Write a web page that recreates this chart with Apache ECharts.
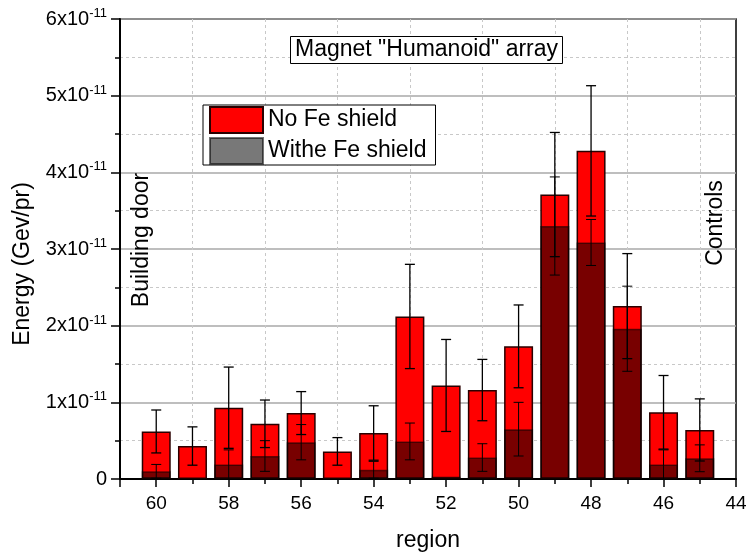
<!DOCTYPE html>
<html>
<head>
<meta charset="utf-8">
<script src="https://cdn.jsdelivr.net/npm/echarts@6/dist/echarts.min.js"></script>
<style>
  html, body { margin: 0; padding: 0; background: #fff; }
  #chart { width: 746px; height: 554px; }
</style>
</head>
<body>
<div id="chart"></div>
<script>
// Detector regions along the beam line (plotted right-to-left)
const regions = [60, 59, 58, 57, 56, 55, 54, 53, 52, 51, 50, 49, 48, 47, 46, 45];
// Energy deposit without iron shielding (Gev/pr) and its uncertainty
const noFe    = [0.62e-11, 0.43e-11, 0.93e-11, 0.72e-11, 0.86e-11, 0.36e-11, 0.60e-11, 2.12e-11,
                 1.22e-11, 1.16e-11, 1.73e-11, 3.71e-11, 4.28e-11, 2.255e-11, 0.87e-11, 0.64e-11];
const noFeErr = [0.28e-11, 0.25e-11, 0.53e-11, 0.31e-11, 0.28e-11, 0.18e-11, 0.355e-11, 0.68e-11,
                 0.60e-11, 0.40e-11, 0.54e-11, 0.81e-11, 0.85e-11, 0.685e-11, 0.48e-11, 0.405e-11];
// Energy deposit with iron shielding (Gev/pr) and its uncertainty
const withFe    = [0.10e-11, 0, 0.19e-11, 0.30e-11, 0.48e-11, 0, 0.12e-11, 0.49e-11,
                   0.03e-11, 0.28e-11, 0.65e-11, 3.30e-11, 3.085e-11, 1.96e-11, 0.19e-11, 0.27e-11];
const withFeErr = [0.09e-11, 0, 0.19e-11, 0.20e-11, 0.23e-11, 0, 0.11e-11, 0.24e-11,
                   0, 0.18e-11, 0.35e-11, 0.64e-11, 0.30e-11, 0.555e-11, 0.19e-11, 0.175e-11];
// Axis ticks
const xTicks = [60, 58, 56, 54, 52, 50, 48, 46, 44];
const yTickUnit = 1e-11;

const FONT = 'Arial, "Liberation Sans", sans-serif';

function errorBars(values, errs, z, width) {
  return {
    type: 'custom',
    z: z,
    silent: true,
    clip: false,
    data: regions.map((r, i) => [r, values[i], errs[i]]),
    renderItem: function (params, api) {
      const x = api.value(0), y = api.value(1), e = api.value(2);
      if (!e) return null;
      const top = api.coord([x, y + e]);
      const bot = api.coord([x, Math.max(y - e, 0)]);
      const cap = 5;
      const style = { stroke: '#000', lineWidth: width };
      const children = [
        { type: 'line', shape: { x1: top[0], y1: top[1], x2: bot[0], y2: bot[1] }, style: style },
        { type: 'line', shape: { x1: top[0] - cap, y1: top[1], x2: top[0] + cap, y2: top[1] }, style: style }
      ];
      if (y - e > 0) {
        children.push({ type: 'line', shape: { x1: bot[0] - cap, y1: bot[1], x2: bot[0] + cap, y2: bot[1] }, style: style });
      }
      return { type: 'group', children: children };
    }
  };
}

const chart = echarts.init(document.getElementById('chart'));
chart.setOption({
  animation: false,
  backgroundColor: '#fff',
  textStyle: { fontFamily: FONT },
  grid: {
    left: 120, right: 10, top: 19, bottom: 75,
    outerBoundsMode: 'none',
    containLabel: false,
    show: true, borderColor: '#000', borderWidth: 1.5, backgroundColor: 'transparent'
  },
  title: {
    text: 'Magnet "Humanoid" array',
    left: 290, top: 36,
    padding: [2, 5, 2, 5],
    borderColor: '#000', borderWidth: 1, backgroundColor: '#fff',
    textStyle: { fontFamily: FONT, fontSize: 23, lineHeight: 24, fontWeight: 'normal', color: '#000' }
  },
  legend: {
    left: 203, top: 105,
    orient: 'vertical',
    itemWidth: 53, itemHeight: 26, itemGap: 3,
    padding: [1, 9, 0, 6],
    borderColor: '#000', borderWidth: 1, backgroundColor: '#fff',
    textStyle: { fontFamily: FONT, fontSize: 23, color: '#000' },
    data: [
      { name: 'No Fe shield', icon: 'rect' },
      { name: 'Withe Fe shield', icon: 'rect' }
    ]
  },
  xAxis: {
    type: 'value',
    min: 44, max: 61, interval: 2,
    inverse: true,
    name: 'region',
    nameLocation: 'middle',
    nameGap: 50,
    nameTextStyle: { fontFamily: FONT, fontSize: 23, color: '#000' },
    axisLine: { show: true, onZero: false, lineStyle: { color: '#000', width: 2 } },
    axisTick: { show: true, length: 8, lineStyle: { color: '#000', width: 1.5 } },
    minorTick: { show: true, splitNumber: 2, length: 5, lineStyle: { color: '#000', width: 1.5 } },
    axisLabel: {
      margin: 15, fontFamily: FONT, fontSize: 19, color: '#000',
      formatter: v => (xTicks.indexOf(v) >= 0 ? String(v) : '')
    },
    splitLine: { show: false },
    minorSplitLine: { show: true, lineStyle: { color: '#c8c8c8', type: [3, 3], width: 1 } }
  },
  yAxis: {
    type: 'value',
    min: 0, max: 6e-11, interval: 1e-11,
    axisLine: { show: true, lineStyle: { color: '#000', width: 2 } },
    axisTick: { show: true, length: 9, lineStyle: { color: '#000', width: 1.5 } },
    minorTick: { show: true, splitNumber: 2, length: 5, lineStyle: { color: '#000', width: 1.5 } },
    axisLabel: {
      margin: 13, fontFamily: FONT, fontSize: 20, color: '#000',
      formatter: function (v) {
        const k = Math.round(v / yTickUnit);
        if (Math.abs(v - k * yTickUnit) > yTickUnit * 1e-3) return '';
        return k === 0 ? '{n|0}' : '{n|' + k + 'x10}{s|-11}';
      },
      rich: {
        n: { fontFamily: FONT, fontSize: 20, color: '#000' },
        s: { fontFamily: FONT, fontSize: 13, color: '#000', verticalAlign: 'top', padding: [0, 0, 11, 0] }
      }
    },
    splitLine: { show: true, lineStyle: { color: '#a8a8a8', width: 1.5 } },
    minorSplitLine: { show: true, lineStyle: { color: '#c8c8c8', type: [3, 3], width: 1 } }
  },
  graphic: [
    {
      // y-axis title
      type: 'text', x: 23, y: 264, rotation: Math.PI / 2, z: 50,
      style: { text: 'Energy (Gev/pr)', fontFamily: FONT, fontSize: 23, fill: '#000', align: 'center', verticalAlign: 'middle' }
    },
    {
      type: 'text', x: 142, y: 240, rotation: Math.PI / 2, z: 50,
      style: { text: 'Building door', fontFamily: FONT, fontSize: 23, fill: '#000', align: 'center', verticalAlign: 'middle' }
    },
    {
      type: 'text', x: 716, y: 223, rotation: Math.PI / 2, z: 50,
      style: { text: 'Controls', fontFamily: FONT, fontSize: 23, fill: '#000', align: 'center', verticalAlign: 'middle' }
    }
  ],
  series: [
    {
      name: 'No Fe shield',
      type: 'bar',
      z: 2,
      barWidth: 29,
      barGap: '-100%',
      data: regions.map((r, i) => [r, noFe[i]]),
      itemStyle: { color: '#ff0000', borderColor: '#2a0000', borderWidth: 1.5 }
    },
    errorBars(noFe, noFeErr, 3, 1.3),
    {
      name: 'Withe Fe shield',
      type: 'bar',
      z: 4,
      barWidth: 29,
      barGap: '-100%',
      data: regions.map((r, i) => [r, withFe[i]]),
      itemStyle: { color: 'rgba(0,0,0,0.53)', borderColor: 'rgba(0,0,0,0.55)', borderWidth: 1.5 }
    },
    errorBars(withFe, withFeErr, 5, 1)
  ]
});
</script>
</body>
</html>
